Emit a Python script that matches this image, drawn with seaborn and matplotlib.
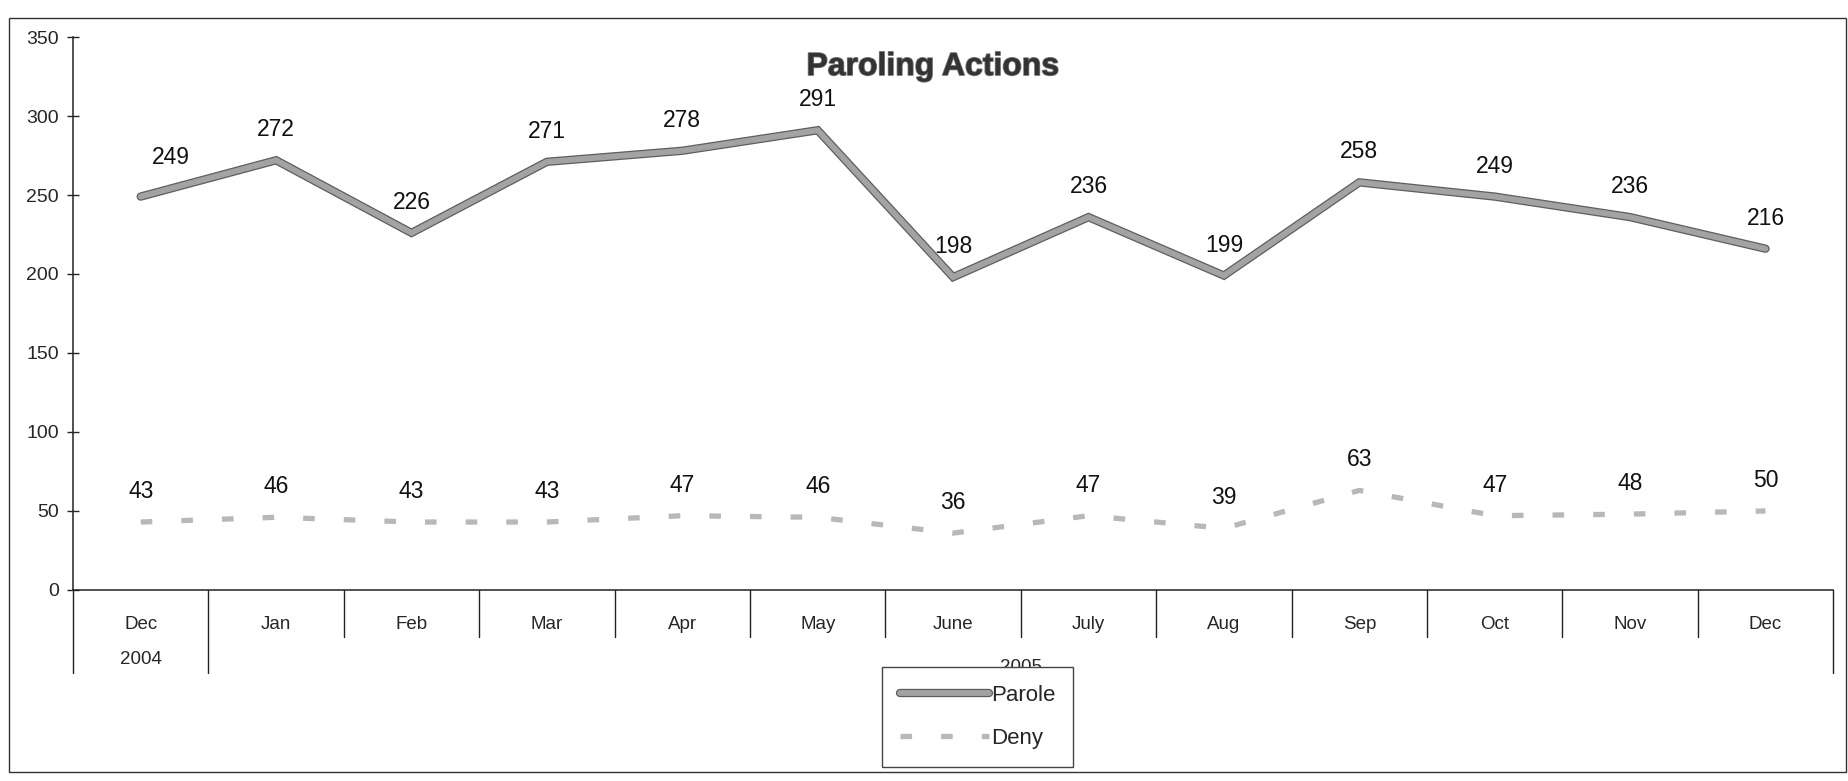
import numpy as np
import pandas as pd
import matplotlib
matplotlib.use('Agg')
import matplotlib.pyplot as plt
import matplotlib.patheffects as pe
import matplotlib.transforms as mtransforms
from matplotlib.patches import Rectangle
import seaborn as sns

# ------------------------------------------------------------------
# Datos
# ------------------------------------------------------------------
months = ['Dec', 'Jan', 'Feb', 'Mar', 'Apr', 'May', 'June',
          'July', 'Aug', 'Sep', 'Oct', 'Nov', 'Dec']
parole = [249, 272, 226, 271, 278, 291, 198, 236, 199, 258, 249, 236, 216]
deny = [43, 46, 43, 43, 47, 46, 36, 47, 39, 63, 47, 48, 50]
years = ['2004', '2005']
y_ticks = [0, 50, 100, 150, 200, 250, 300, 350]

df = pd.DataFrame({'idx': np.arange(len(months)), 'Parole': parole, 'Deny': deny})

sns.set_style('white')
plt.rcParams['font.family'] = ['Liberation Sans', 'DejaVu Sans']

fig = plt.figure(figsize=(18.48, 7.81), dpi=100)
ax = fig.add_axes([0.0395, 0.2446, 0.9525, 0.708])

# Parole: linea gris con borde oscuro
sns.lineplot(data=df, x='idx', y='Parole', ax=ax, color='#a3a3a3', linewidth=4.2,
             label='Parole', solid_capstyle='round', solid_joinstyle='miter',
             path_effects=[pe.Stroke(linewidth=6, foreground='#5e5e5e'), pe.Normal()])
# Deny: linea discontinua gris claro
sns.lineplot(data=df, x='idx', y='Deny', ax=ax, color='#b8b8b8', linewidth=3.8,
             label='Deny', dashes=False)
ax.lines[-1].set_dashes((2.2, 5.5))

# Etiquetas de datos
for i, v in enumerate(parole):
    dx = 22 if i == 0 else 0
    dy = 28 if i == 0 else 22
    ax.annotate(str(v), (i, v), xytext=(dx, dy), textcoords='offset points',
                ha='center', va='center', fontsize=16.5, color='#111111')
for i, v in enumerate(deny):
    ax.annotate(str(v), (i, v), xytext=(0, 22), textcoords='offset points',
                ha='center', va='center', fontsize=16.5, color='#111111')

# Ejes
ax.set_xlim(-0.5, len(months) - 0.5)
ax.set_ylim(0, 350)
ax.set_yticks(y_ticks)
ax.tick_params(axis='y', direction='inout', length=8, width=1, labelsize=14, pad=6, left=True)
ax.set_xticks(np.arange(len(months)))
ax.set_xticklabels(months, fontsize=13.5)
ax.tick_params(axis='x', length=0, pad=19)
ax.set_xlabel('')
ax.set_ylabel('')
sns.despine(ax=ax, top=True, right=True)
for s in ['left', 'bottom']:
    ax.spines[s].set_color('#222222')
    ax.spines[s].set_linewidth(1.1)

# Separadores de categorias bajo el eje
trans = mtransforms.blended_transform_factory(ax.transData, ax.transAxes)
for k in range(len(months) + 1):
    xb = k - 0.5
    depth = -0.15 if k in (0, 1, len(months)) else -0.085
    ax.plot([xb, xb], [0, depth], transform=trans, color='#222222', lw=1, clip_on=False)

# Etiquetas de anio
ax.text(0, -0.125, years[0], transform=trans, ha='center', va='center', fontsize=13.5)
ax.text(6.5, -0.141, years[1], transform=trans, ha='center', va='center', fontsize=13.5)

# Titulo
ax.text(5.85, 331, 'Paroling Actions', ha='center', va='center', fontsize=23,
        fontweight='bold', color='#333333',
        path_effects=[pe.withStroke(linewidth=1.2, foreground='#777777')])

# Leyenda
leg = ax.legend(loc='center', bbox_to_anchor=(0.529, 0.082), bbox_transform=fig.transFigure,
                fontsize=16, frameon=True, fancybox=False, framealpha=1, handlelength=4,
                labelspacing=1.0, borderpad=0.8, handletextpad=0.1, borderaxespad=0)
leg.get_frame().set_edgecolor('#444444')
leg.get_frame().set_linewidth(1)
leg.set_zorder(5)

# Marco exterior
fig.patches.append(Rectangle((0.005, 0.012), 0.994, 0.965, transform=fig.transFigure,
                             fill=False, edgecolor='#333333', linewidth=1))

plt.savefig('out.png', dpi=100)
